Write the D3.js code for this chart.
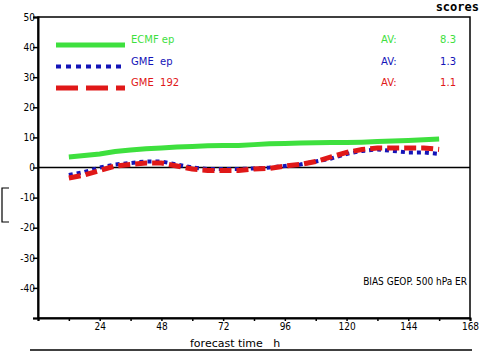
<!DOCTYPE html>
<html>
<head>
<meta charset="utf-8">
<script src="https://cdn.jsdelivr.net/npm/d3@7"></script>
<style>
body { margin: 0; background: #fff; }
svg text { font-family: "DejaVu Sans", sans-serif; }
</style>
</head>
<body>
<div id="chart"></div>
<script>
"use strict";

var hours = [12, 18, 24, 30, 36, 42, 48, 54, 60, 66, 72, 78, 84, 90, 96, 102, 108, 114, 120, 126, 132, 138, 144, 150, 156],
    ecmfEp = [3.5, 4, 4.5, 5.3, 5.8, 6.2, 6.5, 6.8, 7, 7.2, 7.3, 7.3, 7.6, 7.9, 8, 8.1, 8.2, 8.3, 8.3, 8.4, 8.6, 8.8, 9, 9.2, 9.5],
    gmeEp = [-2.5, -1.5, 0, 1, 1.5, 2, 2, 1, 0, -0.5, -0.5, -0.5, -0.3, 0, 0.5, 1, 2, 3, 4.5, 5.5, 6, 5.5, 5, 5, 4.5],
    gme192 = [-3.5, -2.5, -1, 0.5, 1, 1.5, 1.5, 0.5, -0.5, -1, -1, -1, -0.5, -0.3, 0.5, 1, 2, 3.5, 5, 6, 6.5, 6.5, 6.5, 6.5, 6],
    seriesNames = ["ECMF ep", "GME  ep", "GME  192"],
    averages = ["8.3", "1.3", "1.1"],
    yTicks = [-40, -30, -20, -10, 0, 10, 20, 30, 40, 50],
    xTicks = [24, 48, 72, 96, 120, 144, 168],

    chartWidth = 481,
    chartHeight = 351,
    plotLeft = 38,
    plotRight = 470,
    plotTop = 17,
    plotBottom = 318;

var series = [
    {name: seriesNames[0], values: ecmfEp, av: averages[0], colour: "#3ee03e", width: 5, dash: null},
    {name: seriesNames[1], values: gmeEp, av: averages[1], colour: "#1414b8", width: 4, dash: "4,4"},
    {name: seriesNames[2], values: gme192, av: averages[2], colour: "#e01818", width: 5, dash: "12,5"}
];

var svg = d3.select("#chart").append("svg")
    .attr("width", chartWidth)
    .attr("height", chartHeight);

var x = d3.scaleLinear().domain([0, 168]).range([plotLeft, plotRight]),
    y = d3.scaleLinear().domain([-50, 50]).range([plotBottom, plotTop]);

// frame
svg.append("rect")
    .attr("x", plotLeft)
    .attr("y", plotTop)
    .attr("width", plotRight - plotLeft)
    .attr("height", plotBottom - plotTop)
    .attr("fill", "none")
    .attr("stroke", "#000")
    .attr("stroke-width", 1.5);

var yAxis = svg.append("g")
    .attr("transform", "translate(" + plotLeft + ",0)")
    .call(d3.axisLeft(y).tickValues(yTicks.concat([-50])).tickSize(5).tickFormat(function(d) {
        return d === -50 ? "" : d;
    }));

var xAxis = svg.append("g")
    .attr("transform", "translate(0," + plotBottom + ")")
    .call(d3.axisBottom(x).tickValues(d3.range(0, 169, 12)).tickSize(3).tickFormat(function(d) {
        return xTicks.indexOf(d) >= 0 ? d : "";
    }));

[yAxis, xAxis].forEach(function(ax) {
    ax.select(".domain").attr("stroke-width", 2);
    ax.selectAll(".tick line").attr("stroke-width", 1.5);
    ax.selectAll("text")
        .attr("font-size", 10)
        .attr("fill", "#000")
        .style("font-family", "'DejaVu Sans Condensed', sans-serif");
});
yAxis.selectAll("text").attr("x", -3);
xAxis.selectAll("text").attr("dy", "0.6em");

// zero line
svg.append("line")
    .attr("x1", plotLeft)
    .attr("x2", plotRight)
    .attr("y1", y(0))
    .attr("y2", y(0))
    .attr("stroke", "#000")
    .attr("stroke-width", 1.5);

var line = d3.line()
    .x(function(d, i) { return x(hours[i]); })
    .y(function(d) { return y(d); });

svg.selectAll("path.series")
    .data(series)
    .enter().append("path")
    .attr("class", "series")
    .attr("d", function(s) { return line(s.values); })
    .attr("fill", "none")
    .attr("stroke", function(s) { return s.colour; })
    .attr("stroke-width", function(s) { return s.width; })
    .attr("stroke-dasharray", function(s) { return s.dash; });

// legend
var legend = svg.selectAll("g.legend")
    .data(series)
    .enter().append("g")
    .attr("class", "legend")
    .attr("transform", function(s, i) {
        return "translate(0," + (45 + i * 21.5) + ")";
    });

legend.append("line")
    .attr("x1", 56)
    .attr("x2", 125)
    .attr("stroke", function(s) { return s.colour; })
    .attr("stroke-width", function(s, i) { return i === 1 ? 4 : 5; })
    .attr("stroke-dasharray", function(s, i) { return i === 1 ? "5,5" : i === 2 ? "22,8" : null; });

legend.append("text")
    .attr("x", 131)
    .attr("y", -2)
    .attr("font-size", 10)
    .attr("fill", function(s) { return s.colour; })
    .attr("xml:space", "preserve")
    .text(function(s) { return s.name; });

legend.append("text")
    .attr("x", 381)
    .attr("y", -2)
    .attr("font-size", 10)
    .attr("fill", function(s) { return s.colour; })
    .text("AV:");

legend.append("text")
    .attr("x", 456)
    .attr("y", -2)
    .attr("text-anchor", "end")
    .attr("font-size", 10)
    .attr("fill", function(s) { return s.colour; })
    .text(function(s) { return s.av; });

svg.append("text")
    .attr("x", 467)
    .attr("y", 285)
    .attr("text-anchor", "end")
    .attr("font-size", 10)
    .style("font-family", "'DejaVu Sans Condensed', sans-serif")
    .text("BIAS GEOP. 500 hPa ER");

svg.append("text")
    .attr("x", 479)
    .attr("y", 11)
    .attr("text-anchor", "end")
    .attr("font-size", 12)
    .attr("font-weight", "bold")
    .style("font-family", "'DejaVu Sans Mono', monospace")
    .text("scores");

svg.append("text")
    .attr("x", 190)
    .attr("y", 347)
    .attr("font-size", 11)
    .attr("xml:space", "preserve")
    .text("forecast time   h");

svg.append("line")
    .attr("x1", 30)
    .attr("x2", 472)
    .attr("y1", 350)
    .attr("y2", 350)
    .attr("stroke", "#000")
    .attr("stroke-width", 1.5);

// stray bracket at the left edge
svg.append("path")
    .attr("d", "M9,188 L2,188 L2,222 L9,222")
    .attr("fill", "none")
    .attr("stroke", "#000")
    .attr("stroke-width", 1.2);
</script>
</body>
</html>
